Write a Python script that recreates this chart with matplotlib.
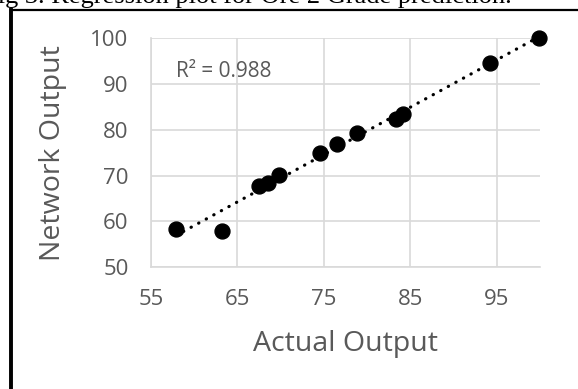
import matplotlib.pyplot as plt
import numpy as np
from matplotlib.lines import Line2D

# values
actual = [57.9, 63.2, 67.5, 68.5, 69.8, 74.6, 76.5, 78.8, 83.4, 84.2, 94.2, 99.9]
network = [58.3, 57.9, 67.8, 68.4, 70.2, 74.9, 76.9, 79.2, 82.4, 83.4, 94.5, 100.1]
x_ticks = [55, 65, 75, 85, 95]
y_ticks = [50, 60, 70, 80, 90, 100]
r2_label = "R² = 0.988"

gray = "#595959"
font = "Open Sans"

fig = plt.figure(figsize=(5.78, 3.89), dpi=100)
ax = fig.add_axes([0.261, 0.313, 0.673, 0.589])

ax.scatter(actual, network, s=115, color="black", zorder=3, clip_on=False)

# linear trendline
coef = np.polyfit(actual, network, 1)
xs = np.array([min(actual), max(actual)])
ax.plot(xs, np.polyval(coef, xs), color="black", linewidth=2.3,
        linestyle=(0, (0.1, 2.6)), dash_capstyle="round", zorder=2, clip_on=False)

ax.set_xlim(55, 100)
ax.set_ylim(50, 100)
ax.set_xticks(x_ticks)
ax.set_yticks(y_ticks)
ax.grid(True, color="#d9d9d9", linewidth=1.2)
ax.set_axisbelow(True)
for s in ["top", "right"]:
    ax.spines[s].set_visible(False)
for s in ["left", "bottom"]:
    ax.spines[s].set_color("#d9d9d9")
    ax.spines[s].set_linewidth(1.2)
ax.tick_params(length=0, colors=gray, labelsize=16, pad=16)
for lab in ax.get_xticklabels() + ax.get_yticklabels():
    lab.set_fontfamily(font)

ax.set_xlabel("Actual Output", fontsize=20.5, color=gray, family=font, labelpad=14)
ax.set_ylabel("Network Output", fontsize=20.5, color=gray, family=font, labelpad=17)
ax.text(57.9, 92.7, r2_label, fontsize=15, color=gray, family=font, va="center")

# outer box and clipped caption
fig.add_artist(Line2D([11 / 578, 11 / 578], [0, 1 - 10 / 389], color="black",
                      linewidth=2.8, transform=fig.transFigure))
fig.add_artist(Line2D([11 / 578, 1], [1 - 10 / 389, 1 - 10 / 389], color="black",
                      linewidth=1.6, transform=fig.transFigure))
fig.text(-17 / 578, 1 - 3 / 389, "Fig 3. Regression plot for Ore 2 Grade prediction.",
         family="Liberation Serif", fontsize=19, va="baseline", ha="left")

fig.savefig("out.png", dpi=100)
